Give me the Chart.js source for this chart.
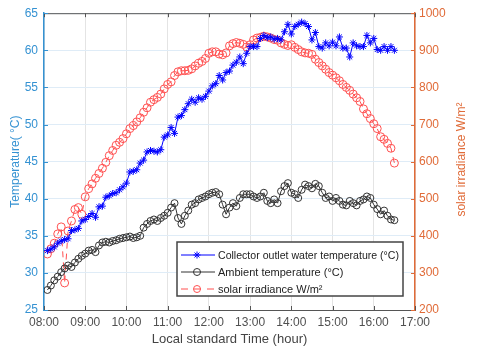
<!DOCTYPE html>
<html>
<head>
<meta charset="utf-8">
<script src="https://cdn.jsdelivr.net/npm/chart.js@4"></script>
<style>
html, body { margin: 0; padding: 0; background: #fff; }
canvas { display: block; }
</style>
</head>
<body>
<canvas id="chart" width="480" height="353"></canvas>
<script>
// measurements every 5 minutes, 08:05 .. 16:30
const startHour = 8 + 5 / 60;
const stepHour = 5 / 60;

const hourLabels = ['08:00', '09:00', '10:00', '11:00', '12:00', '13:00', '14:00', '15:00', '16:00', '17:00'];

// collector outlet water temperature (°C)
const collectorTemp = [
    33.0, 33.2, 33.5, 34.0, 34.3, 34.5, 34.6, 35.7, 35.8, 36.0, 37.0,
    37.2, 37.6, 38.0, 37.5, 38.9, 39.0, 40.2, 40.4, 40.7, 40.8, 41.2, 41.6,
    42.1, 43.6, 43.7, 43.9, 44.8, 45.2, 46.3, 46.5, 46.4, 46.3, 46.6, 48.3,
    48.6, 49.6, 48.8, 51.0, 51.2, 52.0, 52.8, 53.4, 53.0, 53.6, 53.4, 53.8,
    54.5, 55.2, 55.5, 56.6, 56.0, 57.0, 57.2, 58.0, 58.4, 59.1, 58.2, 59.6,
    60.5, 60.5, 60.5, 61.6, 62.0, 61.7, 61.8, 61.5, 61.6, 61.4, 62.5, 63.5,
    62.2, 63.2, 63.5, 63.8, 63.6, 63.2, 61.4, 62.4, 60.5, 60.3, 61.0, 60.6,
    61.1, 60.6, 61.8, 60.3, 60.3, 59.1, 61.0, 60.6, 60.5, 60.5, 62.0, 61.0,
    61.6, 60.1, 60.0, 60.5, 60.0, 60.5, 60.0
];

// ambient temperature (°C)
const ambientTemp = [
    27.7, 28.3, 29.0, 29.5, 30.1, 30.6, 31.0, 30.8, 31.4, 31.9, 32.3,
    32.6, 33.0, 33.1, 32.8, 33.7, 34.1, 34.2, 34.1, 34.3, 34.4, 34.6, 34.7,
    34.8, 34.9, 34.7, 34.8, 35.0, 36.1, 36.6, 37.0, 37.2, 37.0, 37.4, 37.7,
    38.1, 38.8, 39.4, 37.4, 36.6, 37.7, 38.4, 39.2, 39.4, 39.9, 40.1, 40.3,
    40.6, 40.8, 40.9, 40.6, 39.2, 37.9, 38.8, 39.4, 39.0, 40.1, 40.6, 40.6,
    40.6, 40.3, 40.1, 40.3, 40.8, 39.7, 39.4, 39.9, 39.4, 41.0, 41.7, 42.1,
    40.8, 40.6, 40.1, 41.2, 41.9, 41.7, 41.4, 42.0, 41.7, 40.8, 40.1, 40.3,
    39.7, 40.1, 39.7, 39.2, 39.1, 39.7, 39.4, 39.1, 39.7, 39.9, 40.3, 40.1,
    39.2, 38.6, 37.9, 38.4, 37.7, 37.2, 37.1
];

// solar irradiance (W/m²)
const irradiance = [
    351, 365, 380, 405, 424, 273, 413, 440, 471, 476, 458,
    505, 527, 540, 555, 568, 582, 598, 616, 630, 644, 652, 662,
    675, 689, 697, 707, 718, 733, 745, 760, 767, 773, 782, 796,
    808, 815, 832, 842, 845, 845, 846, 850, 858, 865, 870, 878,
    892, 896, 896, 890, 888, 893, 912, 918, 921, 919, 916, 909,
    915, 928, 933, 935, 938, 936, 933, 929, 927, 920, 916, 913,
    915, 908, 902, 896, 893, 892, 889, 876, 867, 858, 849, 840,
    833, 826, 818, 808, 800, 792, 782, 772, 762, 742, 729, 716,
    702, 689, 667, 660, 649, 636, 596
];

const blueAxis = '#3592d2';
const orangeAxis = '#e06b38';
const FONT = '"Liberation Sans", Arial, sans-serif';

const times = collectorTemp.map((_, i) => startHour + i * stepHour);
const toPoints = arr => arr.map((v, i) => ({ x: times[i], y: v }));

const legendItems = [
    { text: 'Collector outlet water temperature (\u00B0C)', color: '#0000ff', marker: 'star', dash: [] },
    { text: 'Ambient temperature (\u00B0C)', color: '#333333', marker: 'circle', dash: [] },
    { text: 'solar irradiance W/m\u00B2', color: '#ff5050', marker: 'circle', dash: [7, 6] }
];

function drawMarker(ctx, type, x, y, r, color) {
    ctx.save();
    ctx.strokeStyle = color;
    ctx.lineWidth = 1;
    ctx.setLineDash([]);
    ctx.beginPath();
    if (type === 'circle') {
        ctx.arc(x, y, r, 0, Math.PI * 2);
    } else {
        for (let a = 0; a < 4; a++) {
            const ang = a * Math.PI / 4;
            ctx.moveTo(x - r * Math.cos(ang), y - r * Math.sin(ang));
            ctx.lineTo(x + r * Math.cos(ang), y + r * Math.sin(ang));
        }
    }
    ctx.stroke();
    ctx.restore();
}

// box, inward ticks, right title, legend
const decorPlugin = {
    id: 'decor',
    afterDraw(chart) {
        const ctx = chart.ctx;
        const { left, right, top, bottom } = chart.chartArea;
        const xs = chart.scales.x, yl = chart.scales.y, yr = chart.scales.y2;
        ctx.save();

        // top edge
        ctx.strokeStyle = '#555';
        ctx.lineWidth = 1;
        ctx.beginPath();
        ctx.moveTo(left, top + 0.5);
        ctx.lineTo(right, top + 0.5);
        ctx.stroke();

        // inward tick marks
        ctx.beginPath();
        xs.ticks.forEach(t => {
            const px = Math.round(xs.getPixelForValue(t.value)) + 0.5;
            ctx.moveTo(px, bottom); ctx.lineTo(px, bottom - 4);
            ctx.moveTo(px, top); ctx.lineTo(px, top + 4);
        });
        ctx.stroke();
        ctx.strokeStyle = blueAxis;
        ctx.beginPath();
        yl.ticks.forEach(t => {
            const py = Math.round(yl.getPixelForValue(t.value)) + 0.5;
            ctx.moveTo(left, py); ctx.lineTo(left + 4, py);
        });
        ctx.stroke();
        ctx.strokeStyle = orangeAxis;
        ctx.beginPath();
        yr.ticks.forEach(t => {
            const py = Math.round(yr.getPixelForValue(t.value)) + 0.5;
            ctx.moveTo(right, py); ctx.lineTo(right - 4, py);
        });
        ctx.stroke();

        // right axis title, reading bottom to top
        ctx.fillStyle = orangeAxis;
        ctx.font = '12px ' + FONT;
        ctx.textAlign = 'center';
        ctx.textBaseline = 'middle';
        ctx.translate(462, (top + bottom) / 2 - 2);
        ctx.rotate(-Math.PI / 2);
        ctx.fillText('solar irradiance W/m\u00B2', 0, 0);
        ctx.setTransform(1, 0, 0, 1, 0, 0);

        // legend box
        const bx = 177, by = 242, bw = 226, bh = 54;
        ctx.fillStyle = '#fff';
        ctx.fillRect(bx, by, bw, bh);
        ctx.strokeStyle = '#444';
        ctx.lineWidth = 1.5;
        ctx.strokeRect(bx, by, bw, bh);

        ctx.font = '11px ' + FONT;
        ctx.textAlign = 'left';
        ctx.textBaseline = 'middle';
        legendItems.forEach((item, i) => {
            const cy = by + 13 + i * 17;
            ctx.strokeStyle = item.color;
            ctx.lineWidth = 1;
            ctx.setLineDash(item.dash);
            ctx.beginPath();
            ctx.moveTo(181, cy); ctx.lineTo(215, cy);
            ctx.stroke();
            ctx.setLineDash([]);
            drawMarker(ctx, item.marker, 197, cy, item.marker === 'star' ? 3.5 : 3.5, item.color);
            ctx.fillStyle = '#222';
            ctx.fillText(item.text, 218, cy + 1, 181);
        });
        ctx.restore();
    }
};

new Chart(document.getElementById('chart'), {
    type: 'line',
    data: {
        datasets: [
            {
                label: legendItems[0].text,
                data: toPoints(collectorTemp),
                yAxisID: 'y',
                borderColor: '#0000ff',
                borderWidth: 1,
                pointStyle: 'star',
                pointRadius: 3.5,
                pointBorderColor: '#0000ff',
                pointBorderWidth: 1,
                tension: 0
            },
            {
                label: legendItems[1].text,
                data: toPoints(ambientTemp),
                yAxisID: 'y',
                borderColor: '#333333',
                borderWidth: 1,
                pointStyle: 'circle',
                pointRadius: 3.5,
                pointBackgroundColor: 'rgba(0,0,0,0)',
                pointBorderColor: '#333333',
                pointBorderWidth: 1,
                tension: 0
            },
            {
                label: legendItems[2].text,
                data: toPoints(irradiance),
                yAxisID: 'y2',
                borderColor: '#ff5050',
                borderWidth: 1,
                borderDash: [6, 5],
                pointStyle: 'circle',
                pointRadius: 4,
                pointBackgroundColor: 'rgba(0,0,0,0)',
                pointBorderColor: '#ff5050',
                pointBorderWidth: 1,
                tension: 0
            }
        ]
    },
    options: {
        responsive: false,
        animation: false,
        layout: { padding: { top: 10, left: 0, right: 0, bottom: 0 } },
        plugins: {
            legend: { display: false },
            tooltip: { enabled: false }
        },
        scales: {
            x: {
                type: 'linear',
                min: 8,
                max: 17,
                afterFit: s => { s.height = 43; },
                ticks: {
                    stepSize: 1,
                    color: '#505050',
                    font: { family: FONT, size: 12 },
                    padding: 5,
                    maxRotation: 0,
                    callback: v => hourLabels[v - 8]
                },
                grid: { color: '#e4e4e4', drawTicks: false },
                border: { color: '#555', width: 1 },
                title: {
                    display: true,
                    text: 'Local standard Time (hour)',
                    color: '#444',
                    font: { family: FONT, size: 13 },
                    padding: { top: 0, bottom: 6 }
                }
            },
            y: {
                position: 'left',
                min: 25,
                max: 65,
                afterFit: s => { s.width = 44; },
                ticks: {
                    stepSize: 5,
                    color: blueAxis,
                    font: { family: FONT, size: 12 },
                    padding: 6
                },
                grid: { color: '#dfecf7', drawTicks: false },
                border: { color: blueAxis, width: 1.5 },
                title: {
                    display: true,
                    text: 'Temperature( \u00B0C)',
                    color: blueAxis,
                    font: { family: FONT, size: 12 },
                    padding: { top: 8, bottom: 0 }
                }
            },
            y2: {
                position: 'right',
                min: 200,
                max: 1000,
                afterFit: s => { s.width = 65; },
                ticks: {
                    stepSize: 100,
                    color: orangeAxis,
                    font: { family: FONT, size: 12 },
                    padding: 4,
                    callback: v => String(v)
                },
                grid: { drawOnChartArea: false, drawTicks: false },
                border: { color: orangeAxis, width: 1.5 }
            }
        }
    },
    plugins: [decorPlugin]
});
</script>
</body>
</html>
